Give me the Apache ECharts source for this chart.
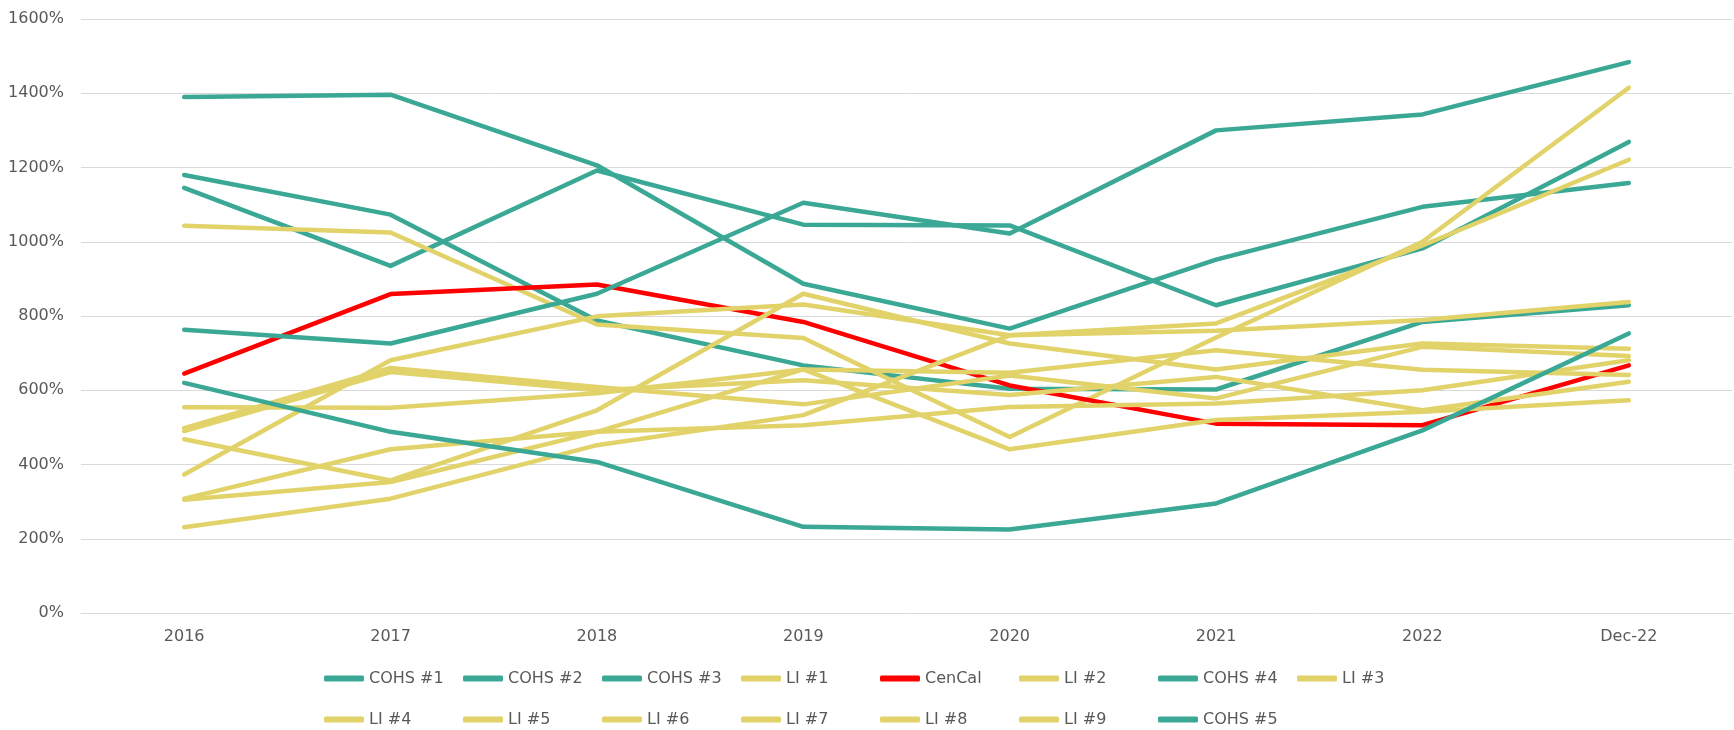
<!DOCTYPE html>
<html>
<head>
<meta charset="utf-8">
<script src="https://cdn.jsdelivr.net/npm/echarts@6/dist/echarts.min.js"></script>
<style>
html,body{margin:0;padding:0;background:#fff;}
#chart{width:1734px;height:730px;}
</style>
</head>
<body>
<div id="chart"></div>
<script>
const categories = ['2016','2017','2018','2019','2020','2021','2022','Dec-22'];
const yTicks = [0,200,400,600,800,1000,1200,1400,1600];

const cohs1 = [1390, 1396, 1206, 887, 766, 952, 1094, 1158];
const cohs2 = [1180, 1073, 788, 667, 604, 602, 784, 829];
const cohs3 = [1145, 935, 1192, 1046, 1044, 829, 982, 1269];
const li1   = [1043, 1025, 777, 741, 474, 742, 1000, 1415];
const cencal= [645, 859, 885, 784, 613, 510, 506, 667];
const li2   = [373, 681, 799, 831, 748, 760, 789, 838];
const cohs4 = [763, 726, 860, 1105, 1022, 1300, 1343, 1484];
const li3   = [498, 660, 609, 562, 640, 578, 717, 692];
const li4   = [490, 649, 600, 627, 587, 636, 546, 623];
const li5   = [554, 553, 592, 656, 647, 708, 655, 641];
const li6   = [468, 357, 546, 860, 726, 656, 726, 712];
const li7   = [308, 441, 488, 656, 441, 520, 542, 573];
const li8   = [305, 353, 488, 506, 555, 564, 600, 681];
const li9   = [231, 308, 452, 533, 748, 780, 990, 1221];
const cohs5 = [620, 488, 407, 232, 225, 295, 492, 753];

const TEAL = '#3AA895', YEL = '#E2D26A', RED = '#FF0000';
const seriesDefs = [
  ['COHS #1', cohs1, TEAL], ['COHS #2', cohs2, TEAL], ['COHS #3', cohs3, TEAL],
  ['LI #1', li1, YEL], ['CenCal', cencal, RED], ['LI #2', li2, YEL],
  ['COHS #4', cohs4, TEAL], ['LI #3', li3, YEL], ['LI #4', li4, YEL],
  ['LI #5', li5, YEL], ['LI #6', li6, YEL], ['LI #7', li7, YEL],
  ['LI #8', li8, YEL], ['LI #9', li9, YEL], ['COHS #5', cohs5, TEAL]
];

const FONT = 'DejaVu Sans';
const chart = echarts.init(document.getElementById('chart'), null, {renderer:'canvas'});
chart.setOption({
  animation: false,
  backgroundColor: '#ffffff',
  textStyle: {fontFamily: FONT},
  grid: {left: 81, right: 2, top: 19, bottom: 117, containLabel: false},
  xAxis: {
    type: 'category',
    data: categories,
    boundaryGap: true,
    axisLine: {show: true, lineStyle: {color: '#D9D9D9', width: 1}},
    axisTick: {show: false},
    axisLabel: {color: '#595959', fontSize: 16, fontFamily: FONT, margin: 16}
  },
  yAxis: {
    type: 'value',
    min: yTicks[0], max: yTicks[yTicks.length-1], interval: 200,
    axisLine: {show: false},
    axisTick: {show: false},
    splitLine: {lineStyle: {color: '#D9D9D9', width: 1}},
    axisLabel: {color: '#595959', fontSize: 16, fontFamily: FONT, margin: 17, formatter: v => v + '%'}
  },
  legend: {
    left: 324, top: 660, width: 1120,
    padding: 0,
    itemGap: 4,
    itemWidth: 40, itemHeight: 6,
    icon: 'roundRect',
    textStyle: {color: '#595959', fontSize: 16, fontFamily: FONT, width: 90, lineHeight: 37},
    data: seriesDefs.map(d => d[0])
  },
  series: seriesDefs.map(d => ({
    name: d[0],
    type: 'line',
    data: d[1],
    symbol: 'none',
    showSymbol: false,
    smooth: false,
    color: d[2],
    itemStyle: {color: d[2]},
    lineStyle: {color: d[2], width: 4.5, cap: 'round', join: 'round'},
    emphasis: {disabled: true}
  }))
});
</script>
</body>
</html>
